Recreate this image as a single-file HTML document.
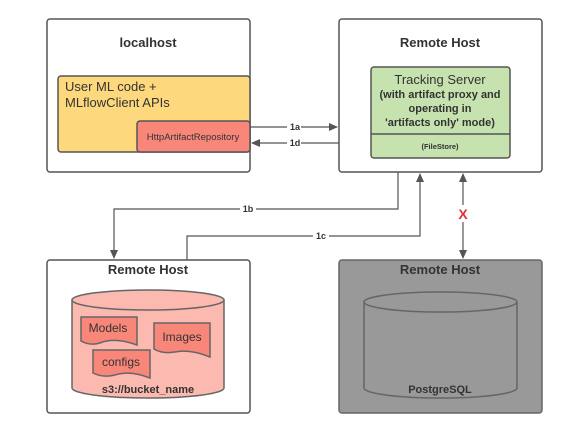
<!DOCTYPE html>
<html><head><meta charset="utf-8"><style>
body{margin:0;background:#fff;}
svg{display:block;font-family:"Liberation Sans",sans-serif;}
</style></head><body>
<svg width="575" height="443" viewBox="0 0 575 443">
<defs>
<marker id="a" markerWidth="10" markerHeight="10" refX="8" refY="4" orient="auto" markerUnits="userSpaceOnUse"><path d="M0,0 L9,4 L0,8 z" fill="#555"/></marker>
</defs>
<g stroke="#555" stroke-width="1.5" fill="#fff">
<rect x="47" y="19" width="203" height="153" rx="3"/>
<rect x="339" y="19" width="203" height="153" rx="3"/>
<rect x="47" y="260" width="203" height="153" rx="3"/>
<rect x="339" y="260" width="203" height="153" rx="3" fill="#999" stroke="#666"/>
<rect x="58" y="76" width="192" height="76" rx="3" fill="#fdd87c"/>
<rect x="137" y="121" width="113" height="31" rx="3" fill="#f8877a"/>
<rect x="371" y="67" width="139" height="91" rx="3" fill="#c6e2ae"/>
<line x1="371" y1="134" x2="510" y2="134"/>
</g>
<g fill="#333" text-anchor="middle" font-weight="bold" font-size="13">
<text x="148" y="47">localhost</text>
<text x="440" y="47">Remote Host</text>
<text x="148" y="274">Remote Host</text>
<text x="440" y="274">Remote Host</text>
</g>
<text x="65" y="91" font-size="13" fill="#333">User ML code +</text>
<text x="65" y="107" font-size="13" fill="#333">MLflowClient APIs</text>
<text x="193" y="140" font-size="9.5" fill="#333" text-anchor="middle">HttpArtifactRepository</text>
<text x="440" y="84" font-size="13" fill="#333" text-anchor="middle">Tracking Server</text>
<g font-size="11" font-weight="bold" fill="#333" text-anchor="middle">
<text x="440" y="98">(with artifact proxy and</text>
<text x="440" y="112">operating in</text>
<text x="440" y="126">'artifacts only' mode)</text>
</g>
<text x="440" y="149" font-size="7.5" font-weight="bold" fill="#333" text-anchor="middle">(FileStore)</text>
<g stroke="#555" stroke-width="1.2" fill="none">
<line x1="250" y1="127" x2="337" y2="127" marker-end="url(#a)"/>
<line x1="339" y1="143" x2="252" y2="143" marker-end="url(#a)"/>
<polyline points="398,172 398,209 114,209 114,258" marker-end="url(#a)"/>
<polyline points="187,260 187,236 420,236 420,174" marker-end="url(#a)"/>
<line x1="463" y1="205" x2="463" y2="174" marker-end="url(#a)"/>
<line x1="463" y1="222" x2="463" y2="258" marker-end="url(#a)"/>
</g>
<g font-size="9" font-weight="bold" fill="#333" text-anchor="middle">
<rect x="287" y="121" width="14" height="10" fill="#fff"/><text x="295" y="130">1a</text>
<rect x="287" y="137" width="14" height="10" fill="#fff"/><text x="295" y="146">1d</text>
<rect x="240" y="204" width="16" height="10" fill="#fff"/><text x="248" y="212">1b</text>
<rect x="313" y="231" width="16" height="10" fill="#fff"/><text x="321" y="239">1c</text>
</g>
<text x="463" y="219" font-size="14" font-weight="bold" fill="#d33" text-anchor="middle">X</text>
<g stroke="#666" stroke-width="1.5">
<path d="M72,300 L72,388 A76,10 0 0 0 224,388 L224,300" fill="#fbb9b0"/>
<ellipse cx="148" cy="300" rx="76" ry="10" fill="#fbb9b0"/>
<path d="M364,302 L364,388 A76.5,10 0 0 0 517,388 L517,302" fill="#999"/>
<ellipse cx="440.5" cy="302" rx="76.5" ry="10" fill="#999"/>
<path d="M81,317 L137,317 L137,345 Q115,337 100,343 Q90,346 81,341 z" fill="#f8877a"/>
<path d="M154,323 L210,323 L210,357 Q190,349 175,352 Q162,354 154,349 z" fill="#f8877a"/>
<path d="M93,350 L150,350 L150,378 Q130,370 115,375 Q103,378 93,373 z" fill="#f8877a"/>
</g>
<g font-size="12" fill="#333" text-anchor="middle">
<text x="108" y="332">Models</text>
<text x="182" y="341">Images</text>
<text x="121" y="366">configs</text>
</g>
<text x="148" y="393" font-size="11" font-weight="bold" fill="#333" text-anchor="middle">s3://bucket_name</text>
<text x="440" y="393" font-size="11" font-weight="bold" fill="#333" text-anchor="middle">PostgreSQL</text>
</svg>
</body></html>
